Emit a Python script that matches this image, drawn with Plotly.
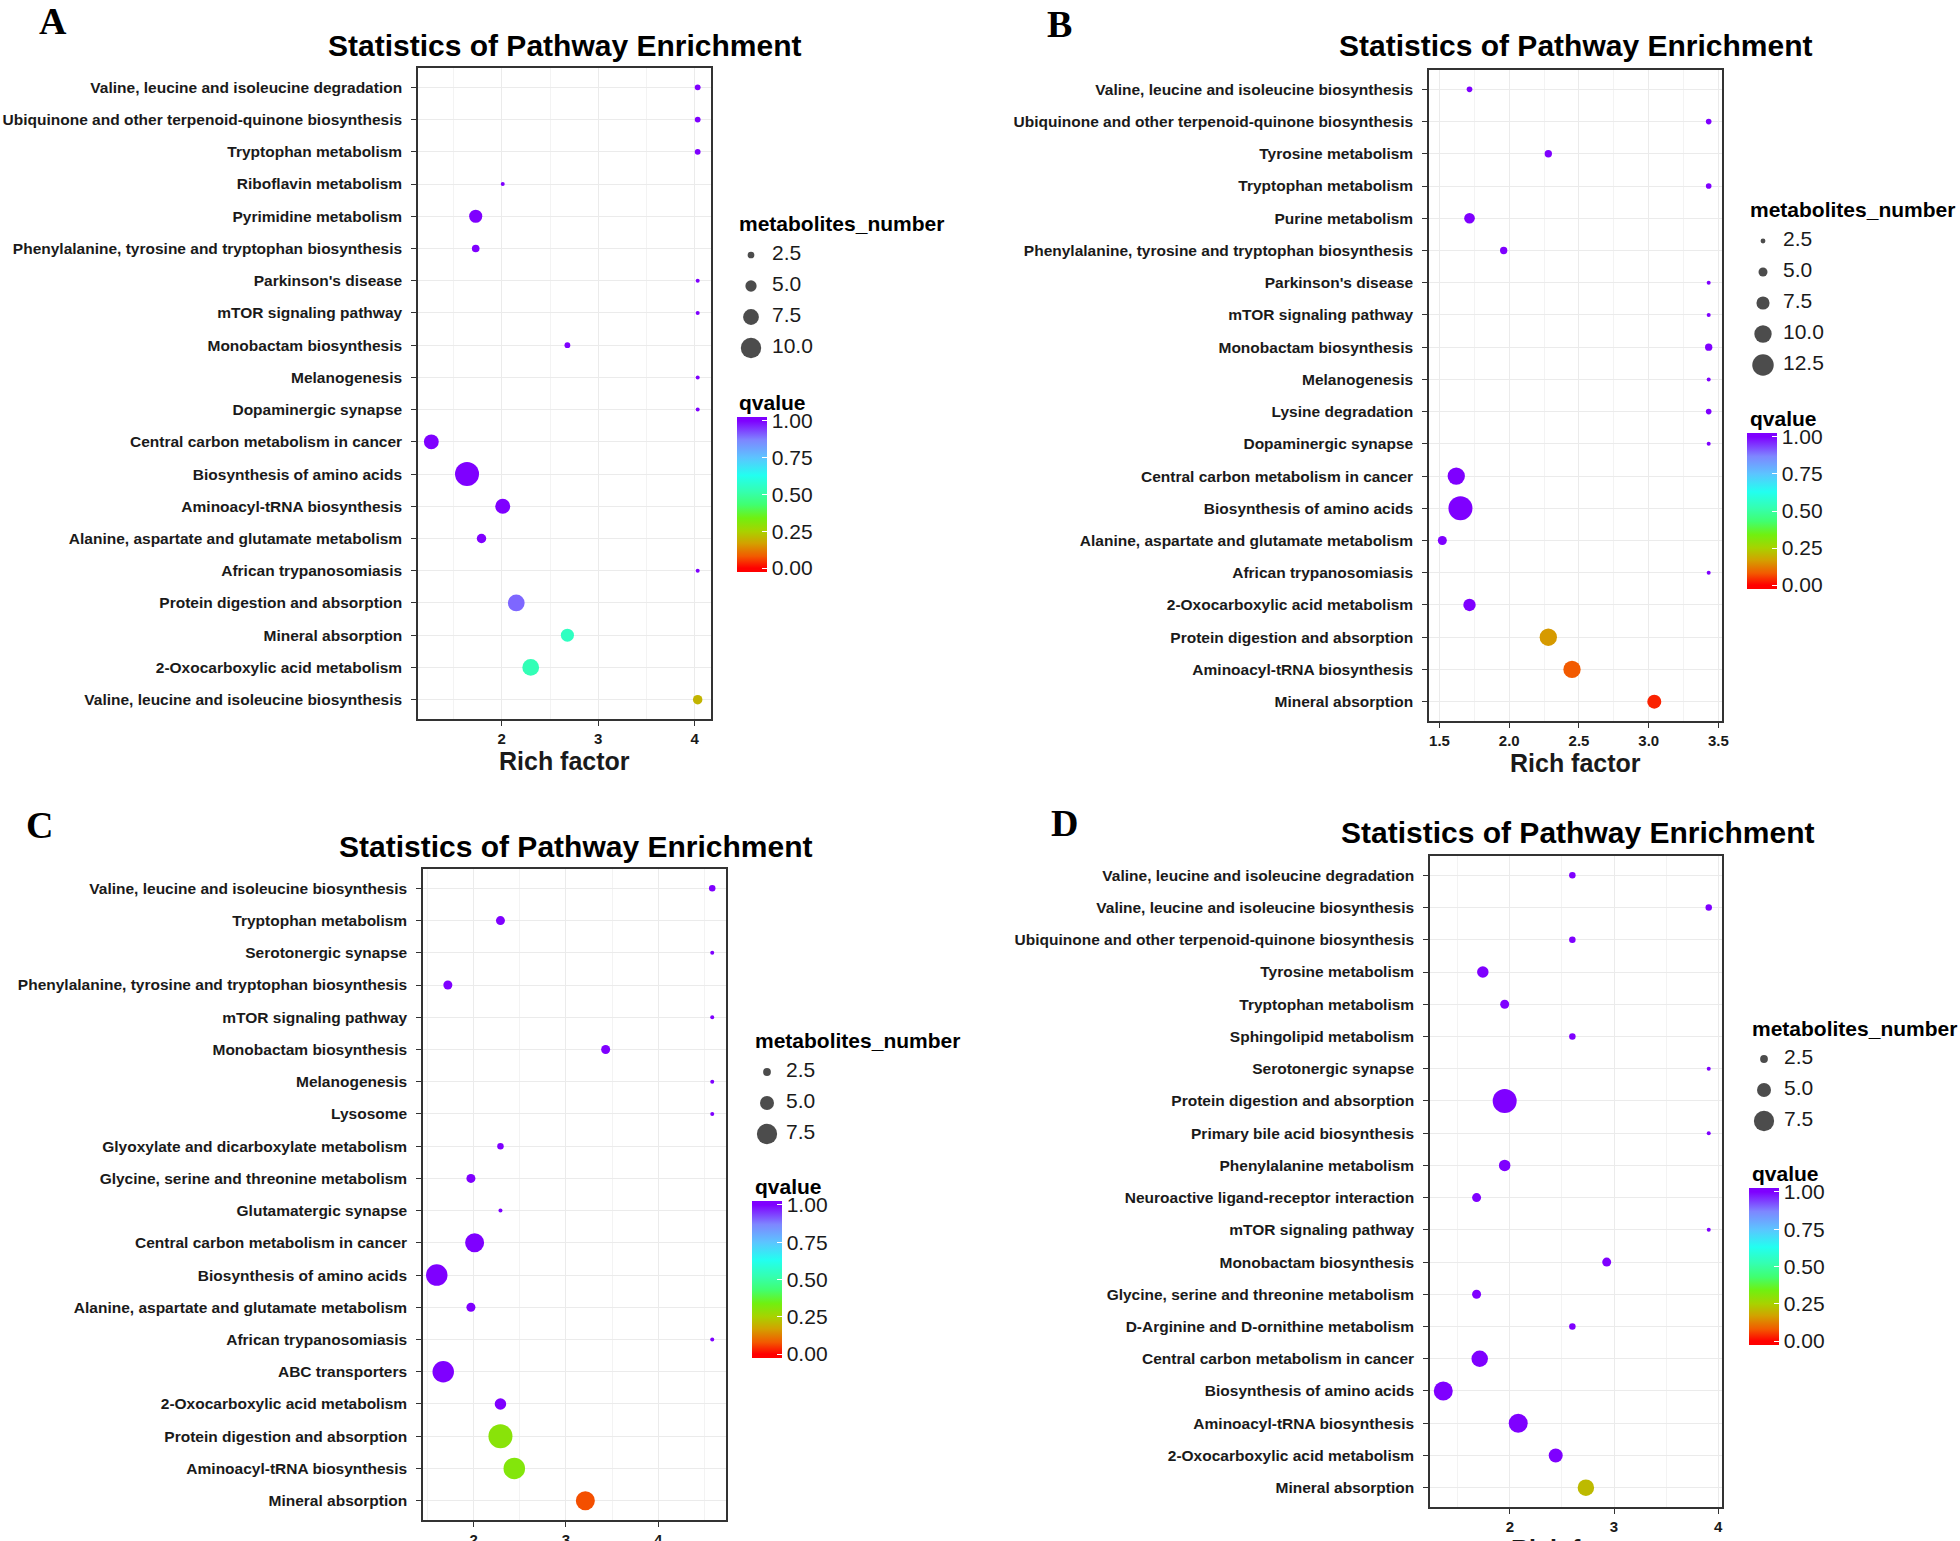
import plotly.graph_objects as go

W, H = 1960, 1541

# ---------------- data ----------------
A_paths = ["Valine, leucine and isoleucine degradation",
           "Ubiquinone and other terpenoid-quinone biosynthesis",
           "Tryptophan metabolism", "Riboflavin metabolism", "Pyrimidine metabolism",
           "Phenylalanine, tyrosine and tryptophan biosynthesis", "Parkinson's disease",
           "mTOR signaling pathway", "Monobactam biosynthesis", "Melanogenesis",
           "Dopaminergic synapse", "Central carbon metabolism in cancer",
           "Biosynthesis of amino acids", "Aminoacyl-tRNA biosynthesis",
           "Alanine, aspartate and glutamate metabolism", "African trypanosomiasis",
           "Protein digestion and absorption", "Mineral absorption",
           "2-Oxocarboxylic acid metabolism", "Valine, leucine and isoleucine biosynthesis"]
A_rich = [4.03, 4.03, 4.03, 2.01, 1.73, 1.73, 4.03, 4.03, 2.68, 4.03,
          4.03, 1.27, 1.64, 2.01, 1.79, 4.03, 2.15, 2.68, 2.30, 4.03]
A_num = [2, 2, 2, 1, 6, 3, 1, 1, 2, 1, 1, 7, 12, 7, 4, 1, 8, 6, 8, 4]
A_q = [1, 1, 1, 1, 1, 1, 1, 1, 1, 1, 1, 1, 1, 1, 1, 1, 0.9, 0.55, 0.53, 0.2]
A_breaks = [2.5, 5.0, 7.5, 10.0]

B_paths = ["Valine, leucine and isoleucine biosynthesis",
           "Ubiquinone and other terpenoid-quinone biosynthesis",
           "Tyrosine metabolism", "Tryptophan metabolism", "Purine metabolism",
           "Phenylalanine, tyrosine and tryptophan biosynthesis", "Parkinson's disease",
           "mTOR signaling pathway", "Monobactam biosynthesis", "Melanogenesis",
           "Lysine degradation", "Dopaminergic synapse",
           "Central carbon metabolism in cancer", "Biosynthesis of amino acids",
           "Alanine, aspartate and glutamate metabolism", "African trypanosomiasis",
           "2-Oxocarboxylic acid metabolism", "Protein digestion and absorption",
           "Aminoacyl-tRNA biosynthesis", "Mineral absorption"]
B_rich = [1.715, 3.43, 2.28, 3.43, 1.715, 1.96, 3.43, 3.43, 3.43, 3.43,
          3.43, 3.43, 1.62, 1.65, 1.52, 3.43, 1.715, 2.28, 2.45, 3.04]
B_num = [3, 3, 4, 3, 6, 4, 2, 2, 4, 2, 3, 2, 10, 14, 5, 2, 7, 10, 10, 8]
B_q = [1, 1, 1, 1, 1, 1, 1, 1, 1, 1, 1, 1, 1, 1, 1, 1, 1, 0.16, 0.08, 0.03]
B_breaks = [2.5, 5.0, 7.5, 10.0, 12.5]

C_paths = ["Valine, leucine and isoleucine biosynthesis", "Tryptophan metabolism",
           "Serotonergic synapse", "Phenylalanine, tyrosine and tryptophan biosynthesis",
           "mTOR signaling pathway", "Monobactam biosynthesis", "Melanogenesis",
           "Lysosome", "Glyoxylate and dicarboxylate metabolism",
           "Glycine, serine and threonine metabolism", "Glutamatergic synapse",
           "Central carbon metabolism in cancer", "Biosynthesis of amino acids",
           "Alanine, aspartate and glutamate metabolism", "African trypanosomiasis",
           "ABC transporters", "2-Oxocarboxylic acid metabolism",
           "Protein digestion and absorption", "Aminoacyl-tRNA biosynthesis",
           "Mineral absorption"]
C_rich = [4.585, 2.29, 4.585, 1.72, 4.585, 3.43, 4.585, 4.585, 2.29, 1.97,
          2.29, 2.01, 1.60, 1.97, 4.585, 1.67, 2.29, 2.29, 2.44, 3.21]
C_num = [2, 3, 1, 3, 1, 3, 1, 1, 2, 3, 1, 7, 8, 3, 1, 8, 4, 9, 8, 7]
C_q = [1, 1, 1, 1, 1, 1, 1, 1, 1, 1, 1, 1, 1, 1, 1, 1, 1, 0.3, 0.31, 0.07]
C_breaks = [2.5, 5.0, 7.5]

D_paths = ["Valine, leucine and isoleucine degradation",
           "Valine, leucine and isoleucine biosynthesis",
           "Ubiquinone and other terpenoid-quinone biosynthesis",
           "Tyrosine metabolism", "Tryptophan metabolism", "Sphingolipid metabolism",
           "Serotonergic synapse", "Protein digestion and absorption",
           "Primary bile acid biosynthesis", "Phenylalanine metabolism",
           "Neuroactive ligand-receptor interaction", "mTOR signaling pathway",
           "Monobactam biosynthesis", "Glycine, serine and threonine metabolism",
           "D-Arginine and D-ornithine metabolism", "Central carbon metabolism in cancer",
           "Biosynthesis of amino acids", "Aminoacyl-tRNA biosynthesis",
           "2-Oxocarboxylic acid metabolism", "Mineral absorption"]
D_rich = [2.60, 3.91, 2.60, 1.74, 1.95, 2.60, 3.91, 1.95, 3.91, 1.95,
          1.68, 3.91, 2.93, 1.68, 2.60, 1.71, 1.36, 2.08, 2.44, 2.73]
D_num = [2, 2, 2, 4, 3, 2, 1, 9, 1, 4, 3, 1, 3, 3, 2, 6, 7, 7, 5, 6]
D_q = [1, 1, 1, 1, 1, 1, 1, 1, 1, 1, 1, 1, 1, 1, 1, 1, 1, 1, 1, 0.21]
D_breaks = [2.5, 5.0, 7.5]

q_ticks = [0, 0.25, 0.5, 0.75, 1.0]

# ---------------- style ----------------
FONT = "Liberation Sans, Arial, Helvetica, sans-serif"
SERIF = "Liberation Serif, Times New Roman, serif"
BASE_STOPS = [[0.0, "#FF0000"], [0.08, "#F25A00"], [0.17, "#D2A200"],
              [0.25, "#A8D200"], [0.34, "#70F010"], [0.43, "#40FF70"],
              [0.52, "#34FFB0"], [0.63, "#22FFF0"], [0.75, "#5CC4FF"],
              [0.87, "#7E86FF"], [1.0, "#7F00FF"]]
# ggplot-style colourbar: ticks sit half a bin (nbin = 20) inside the bar ends
PAD = 0.5 / 19
CMIN, CMAX = -PAD, 1 + PAD
COLORSCALE = ([[0.0, BASE_STOPS[0][1]]] +
              [[(s - CMIN) / (CMAX - CMIN), c] for s, c in BASE_STOPS] +
              [[1.0, BASE_STOPS[-1][1]]])
D_MIN, D_MAX = 4.0, 24.0

panels = [
    dict(letter="A", paths=A_paths, rich=A_rich, num=A_num, q=A_q, breaks=A_breaks,
         box=(418, 68, 711, 719), dtick=1, fmt="", letter_xy=(53, 19), title_xy=(564, 45),
         leg=dict(title=(737, 224), first=255, dot=751, label=772),
         qtitle=(737, 402), cbar=(737, 417, 572)),
    dict(letter="B", paths=B_paths, rich=B_rich, num=B_num, q=B_q, breaks=B_breaks,
         box=(1429, 70, 1722, 721), dtick=0.5, fmt=".1f", letter_xy=(1059, 22), title_xy=(1575, 45),
         leg=dict(title=(1748, 210), first=241, dot=1763, label=1783),
         qtitle=(1748, 418), cbar=(1747, 433, 589)),
    dict(letter="C", paths=C_paths, rich=C_rich, num=C_num, q=C_q, breaks=C_breaks,
         box=(423, 869, 726, 1520), dtick=1, fmt="", letter_xy=(39, 823), title_xy=(575, 846),
         leg=dict(title=(753, 1040), first=1072, dot=767, label=786),
         qtitle=(753, 1186), cbar=(752, 1201, 1358)),
    dict(letter="D", paths=D_paths, rich=D_rich, num=D_num, q=D_q, breaks=D_breaks,
         box=(1430, 856, 1722, 1507), dtick=1, fmt="", letter_xy=(1064, 821), title_xy=(1577, 833),
         leg=dict(title=(1750, 1028), first=1059, dot=1764, label=1784),
         qtitle=(1750, 1173), cbar=(1749, 1188, 1345)),
]


def px(x):
    return x / W


def py(y):
    return 1 - y / H


def size_fn(vmin, vmax):
    def f(v):
        return D_MIN + (D_MAX - D_MIN) * (v - vmin) / (vmax - vmin)
    return f


fig = go.Figure()
layout = dict(width=W, height=H, margin=dict(l=0, r=0, t=0, b=0, autoexpand=False),
              paper_bgcolor="white", plot_bgcolor="white", showlegend=False,
              font=dict(family=FONT, color="black"), annotations=[])

for i, p in enumerate(panels):
    k = i + 1
    lk = i + 5
    xa, ya = ("x" if k == 1 else f"x{k}"), ("y" if k == 1 else f"y{k}")
    lxa, lya = f"x{lk}", f"y{lk}"
    fsize = size_fn(min(p["num"]), max(p["num"]))
    n = len(p["paths"])

    fig.add_trace(go.Scatter(
        x=p["rich"], y=p["paths"], mode="markers", xaxis=xa, yaxis=ya,
        marker=dict(size=[fsize(v) for v in p["num"]], color=p["q"],
                    colorscale=COLORSCALE, cmin=CMIN, cmax=CMAX, line=dict(width=0),
                    opacity=1, showscale=True,
                    colorbar=dict(x=px(p["cbar"][0]), xanchor="left", xpad=0,
                                  y=py(p["cbar"][1]), yanchor="top", ypad=0,
                                  len=p["cbar"][2] - p["cbar"][1], lenmode="pixels",
                                  thickness=30, thicknessmode="pixels",
                                  outlinewidth=0, tickvals=q_ticks,
                                  ticktext=[f"{t:.2f}" for t in q_ticks],
                                  ticks="inside", ticklen=5, tickcolor="white",
                                  tickwidth=1,
                                  tickfont=dict(family=FONT, size=21, color="#1a1a1a"))),
        hoverinfo="skip"))

    lo, hi = min(p["rich"]), max(p["rich"])
    ex = (hi - lo) * 0.05
    x0, y0, x1, y1 = p["box"]
    layout["xaxis" if k == 1 else f"xaxis{k}"] = dict(
        domain=[px(x0), px(x1)], anchor=ya, range=[lo - ex, hi + ex], automargin=False,
        dtick=p["dtick"], tick0=0, tickformat=p["fmt"],
        showgrid=True, gridcolor="#EBEBEB", gridwidth=1.2,
        minor=dict(dtick=p["dtick"] / 2, tick0=0, showgrid=True,
                   gridcolor="#F3F3F3", gridwidth=0.8),
        zeroline=False, showline=True, mirror=True, linecolor="#333333", linewidth=1.5,
        ticks="outside", ticklen=5, tickwidth=1.3, tickcolor="#333333",
        tickfont=dict(family=FONT, size=15, color="#1a1a1a", weight="bold"))
    layout["yaxis" if k == 1 else f"yaxis{k}"] = dict(
        domain=[py(y1), py(y0)], anchor=xa, type="category", automargin=False,
        categoryorder="array", categoryarray=list(reversed(p["paths"])),
        range=[-0.6, n - 0.4], showgrid=True, gridcolor="#EBEBEB", gridwidth=1.2,
        zeroline=False, showline=True, mirror=True, linecolor="#333333", linewidth=1.5,
        ticks="outside", ticklen=5, tickwidth=1.3, tickcolor="#333333",
        ticklabelstandoff=6,
        tickfont=dict(family=FONT, size=15.5, color="#1a1a1a", weight="bold"))

    # size legend drawn on its own small axes
    lg = p["leg"]
    nb = len(p["breaks"])
    top = lg["first"] - 15.5
    bot = lg["first"] + (nb - 1) * 31 + 15.5
    layout[f"xaxis{lk}"] = dict(domain=[px(lg["dot"] - 15), px(lg["dot"] + 100)],
                                range=[-15, 100], visible=False, anchor=lya,
                                fixedrange=True, automargin=False)
    layout[f"yaxis{lk}"] = dict(domain=[py(bot), py(top)], range=[nb - 0.5, -0.5],
                                visible=False, anchor=lxa, fixedrange=True, automargin=False)
    fig.add_trace(go.Scatter(
        x=[0] * nb, y=list(range(nb)), mode="markers", xaxis=lxa, yaxis=lya,
        marker=dict(size=[fsize(b) for b in p["breaks"]], color="black", line=dict(width=0)),
        hoverinfo="skip"))
    fig.add_trace(go.Scatter(
        x=[lg["label"] - lg["dot"]] * nb, y=list(range(nb)), mode="text",
        xaxis=lxa, yaxis=lya, text=[f"{b:.1f}" for b in p["breaks"]],
        textposition="middle right",
        textfont=dict(family=FONT, size=21, color="#1a1a1a"), hoverinfo="skip"))

    anns = layout["annotations"]
    anns.append(dict(text="<b>Statistics of Pathway Enrichment</b>", xref="paper", yref="paper",
                     x=px(p["title_xy"][0]), y=py(p["title_xy"][1]), xanchor="center",
                     yanchor="middle", showarrow=False,
                     font=dict(family=FONT, size=30, color="black")))
    anns.append(dict(text=f"<b>{p['letter']}</b>", xref="paper", yref="paper",
                     x=px(p["letter_xy"][0]), y=py(p["letter_xy"][1] - 21), xanchor="center",
                     yanchor="top", showarrow=False,
                     font=dict(family=SERIF, size=38, color="black")))
    anns.append(dict(text="<b>metabolites_number</b>", xref="paper", yref="paper",
                     x=px(lg["title"][0]), y=py(lg["title"][1]), xanchor="left",
                     yanchor="middle", showarrow=False,
                     font=dict(family=FONT, size=21, color="black")))
    anns.append(dict(text="<b>qvalue</b>", xref="paper", yref="paper",
                     x=px(p["qtitle"][0]), y=py(p["qtitle"][1]), xanchor="left",
                     yanchor="middle", showarrow=False,
                     font=dict(family=FONT, size=21, color="black")))
    # x-axis title (placed like ggplot; may run past the bottom edge as in the original)
    anns.append(dict(text="<b>Rich factor</b>", xref=f"{xa} domain", yref="paper",
                     x=0.5, y=py(y1 + 42), xanchor="center", yanchor="middle",
                     showarrow=False, font=dict(family=FONT, size=25, color="#1a1a1a")))

fig.update_layout(**layout)
fig.write_html("out.html", config={"displayModeBar": False},
               post_script="document.body.style.margin='0';document.body.style.overflow='hidden';")
